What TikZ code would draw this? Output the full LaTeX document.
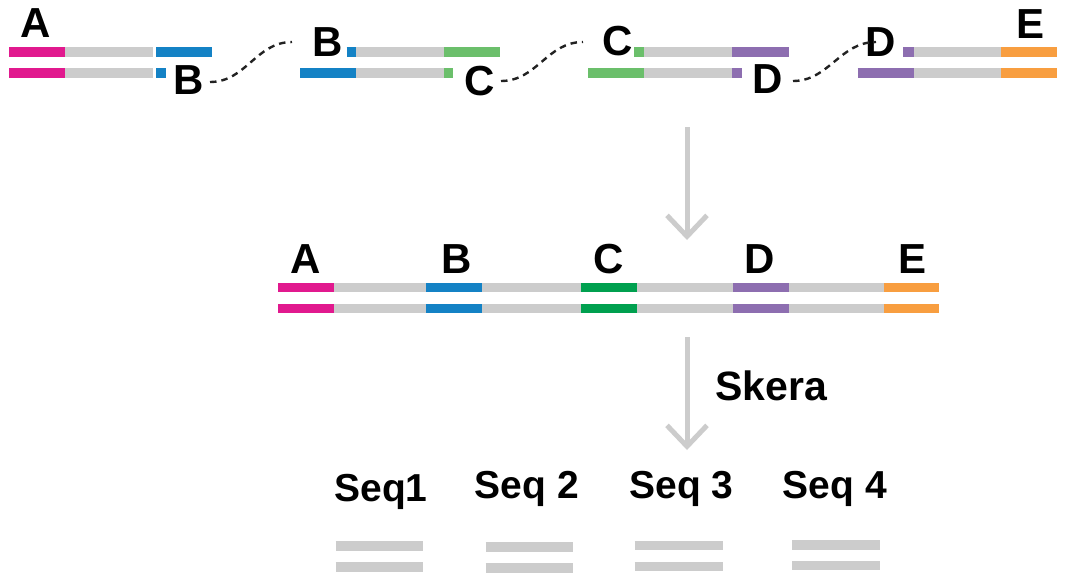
\documentclass[tikz,border=0pt]{standalone}
\usepackage{fontspec}
\setmainfont{Liberation Sans}
\usetikzlibrary{arrows.meta,calc}
\definecolor{cpink}{HTML}{E1198E}
\definecolor{cblue}{HTML}{1482C5}
\definecolor{cgreenl}{HTML}{6BBF6B}
\definecolor{cgreend}{HTML}{00A04F}
\definecolor{cpurple}{HTML}{8D6EB0}
\definecolor{corange}{HTML}{F89E40}
\definecolor{cgray}{HTML}{CCCCCC}
\definecolor{cdash}{HTML}{222222}
\newcommand{\seg}[4]{\draw[line width=9.5pt,#1] (#2,#4) -- (#3,#4);}
\begin{document}
\begin{tikzpicture}[x=1pt,y=-1pt,
  lab/.style={font=\fontsize{42}{48}\selectfont\bfseries, inner sep=0pt},
  seqlab/.style={font=\fontsize{39}{44}\selectfont\bfseries, inner sep=0pt, anchor=base},
  link/.style={draw=cdash, line width=2.4pt, dash pattern=on 6.5pt off 5pt},
  flow/.style={draw=cgray, line width=5pt, -{Straight Barb[length=21pt,width=40pt]}}]
\useasboundingbox (0,0) rectangle (1066,574);

% ---- row 1 fragments ----
% fragment 1
\seg{cpink}{9}{65}{52}
\seg{cgray}{65}{152.7}{52}
\seg{cblue}{156}{212}{52}
\seg{cpink}{9}{65}{73}
\seg{cgray}{65}{152.7}{73}
\seg{cblue}{156}{166}{73}
% fragment 2
\seg{cblue}{346.7}{356}{52}
\seg{cgray}{356}{444}{52}
\seg{cgreenl}{444}{500}{52}
\seg{cblue}{300}{356}{73}
\seg{cgray}{356}{444}{73}
\seg{cgreenl}{444}{453.3}{73}
% fragment 3
\seg{cgreenl}{634}{644}{52}
\seg{cgray}{644}{732}{52}
\seg{cpurple}{732}{789}{52}
\seg{cgreenl}{588}{644}{73}
\seg{cgray}{644}{732}{73}
\seg{cpurple}{732}{742}{73}
% fragment 4
\seg{cpurple}{903.3}{914}{52}
\seg{cgray}{914}{1001}{52}
\seg{corange}{1001}{1057.3}{52}
\seg{cpurple}{857.7}{914}{73}
\seg{cgray}{914}{1001}{73}
\seg{corange}{1001}{1057.3}{73}

\node[lab] (a0) at (36,23.5) {A};
\node[lab] (b1) at (189,80) {B};
\node[lab] (b2) at (327.5,42) {B};
\node[lab] (c1) at (480,81) {C};
\node[lab] (c2) at (617.5,41.5) {C};
\node[lab] (d1) at (768,79.5) {D};
\node[lab] (d2) at (881,42) {D};
\node[lab] (e0) at (1030,24.5) {E};

\draw[link] ($(b1.center)+(21,2)$) .. controls +(36,0) and +(-36,0) .. ($(b2.center)+(-35.5,0)$);
\draw[link] ($(c1.center)+(21,0)$) .. controls +(36,0) and +(-36,0) .. ($(c2.center)+(-34.5,0.5)$);
\draw[link] ($(d1.center)+(25,1.5)$) .. controls +(36,0) and +(-36,0) .. ($(d2.center)+(-5,0)$);

% ---- arrow 1 ----
\coordinate (ar1s) at (687,127);
\coordinate (ar1e) at (687,240);
\draw[flow] (ar1s) -- (ar1e);

% ---- row 2 ----
\foreach \yy in {287.5,308.3}{
  \seg{cpink}{278}{334}{\yy}
  \seg{cgray}{334}{426}{\yy}
  \seg{cblue}{426}{482}{\yy}
  \seg{cgray}{482}{581}{\yy}
  \seg{cgreend}{581}{637}{\yy}
  \seg{cgray}{637}{733}{\yy}
  \seg{cpurple}{733}{789}{\yy}
  \seg{cgray}{789}{884}{\yy}
  \seg{corange}{884}{939}{\yy}
}
\node[lab] (ra) at (306,259) {A};
\node[lab] (rb) at (456.5,259) {B};
\node[lab] (rc) at (608.4,259) {C};
\node[lab] (rd) at (760,259) {D};
\node[lab] (re) at (912,259) {E};

% ---- arrow 2 ----
\coordinate (ar2s) at (687,337);
\coordinate (ar2e) at (687,450);
\draw[flow] (ar2s) -- (ar2e);
\node[font=\fontsize{41}{46}\selectfont\bfseries, inner sep=0pt, anchor=base] (sk) at (771,400) {Skera};

% ---- sequences ----
\node[seqlab] (s1) at (381,501) {Seq1};
\node[seqlab] (s2) at (527,498) {Seq 2};
\node[seqlab] (s3) at (681.5,498) {Seq 3};
\node[seqlab] (s4) at (835,498) {Seq 4};

\seg{cgray}{335.7}{423.3}{545.8}
\seg{cgray}{335.7}{423.3}{567}
\seg{cgray}{485.7}{572.7}{546.8}
\seg{cgray}{485.7}{572.7}{568}
\seg{cgray}{634.6}{722.7}{545.5}
\seg{cgray}{634.6}{722.7}{566.5}
\seg{cgray}{792}{879.6}{545}
\seg{cgray}{792}{879.6}{565.5}
\end{tikzpicture}
\end{document}
